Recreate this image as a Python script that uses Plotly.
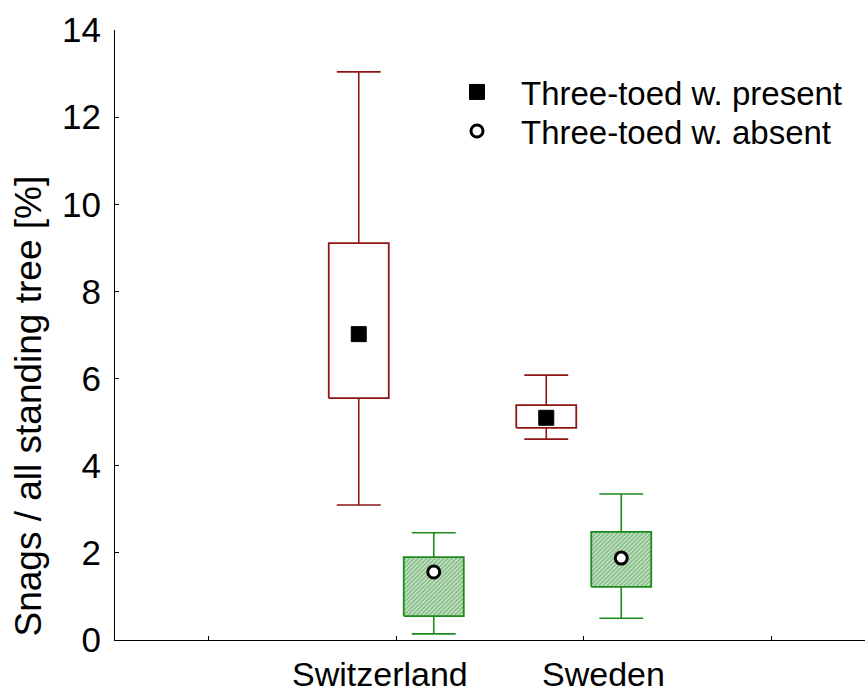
import plotly.graph_objects as go

# Summary statistics per country and woodpecker status
countries = ["Switzerland", "Sweden"]
country_pos = [1, 2]

present_upper = [13.04, 6.08]
present_q3 = [9.11, 5.39]
present_mean = [7.02, 5.10]
present_q1 = [5.55, 4.87]
present_lower = [3.10, 4.61]

absent_upper = [2.46, 3.35]
absent_q3 = [1.90, 2.48]
absent_mean = [1.56, 1.88]
absent_q1 = [0.55, 1.22]
absent_lower = [0.14, 0.50]

RED = "#8E1414"
GREEN = "#1C8A1C"
FONT = "Liberation Sans, Arial, sans-serif"
OFFSET = 0.2
BOX_W = 0.32
CAP_W = 0.234


def box_traces(centers, lower, q1, q3, upper, color, hatched):
    bx, by, wx, wy = [], [], [], []
    for c, lo, a, b, hi in zip(centers, lower, q1, q3, upper):
        bx += [c - BOX_W / 2, c + BOX_W / 2, c + BOX_W / 2, c - BOX_W / 2, c - BOX_W / 2, None]
        by += [a, a, b, b, a, None]
        wx += [c, c, None, c - CAP_W / 2, c + CAP_W / 2, None,
               c, c, None, c - CAP_W / 2, c + CAP_W / 2, None]
        wy += [b, hi, None, hi, hi, None, a, lo, None, lo, lo, None]
    whisk = go.Scatter(x=wx, y=wy, mode="lines", line=dict(color=color, width=1.6),
                       showlegend=False, hoverinfo="skip")
    if hatched:
        box = go.Scatter(x=bx, y=by, mode="lines", fill="toself",
                         fillcolor="rgba(255,255,255,0)",
                         fillpattern=dict(shape="/", fgcolor="#2a8a2a", bgcolor="#e8f4e8",
                                          size=3, solidity=0.7),
                         line=dict(color=color, width=1.8),
                         showlegend=False, hoverinfo="skip")
    else:
        box = go.Scatter(x=bx, y=by, mode="lines", line=dict(color=color, width=1.8),
                         showlegend=False, hoverinfo="skip")
    return [whisk, box]


x_present = [p - OFFSET for p in country_pos]
x_absent = [p + OFFSET for p in country_pos]

fig = go.Figure()
for t in box_traces(x_present, present_lower, present_q1, present_q3, present_upper, RED, False):
    fig.add_trace(t)
for t in box_traces(x_absent, absent_lower, absent_q1, absent_q3, absent_upper, GREEN, True):
    fig.add_trace(t)

fig.add_trace(go.Scatter(x=x_present, y=present_mean, mode="markers",
                         name="Three-toed w. present", legend="legend",
                         marker=dict(symbol="square", size=15, color="black",
                                     line=dict(color="black", width=1))))
fig.add_trace(go.Scatter(x=x_absent, y=absent_mean, mode="markers",
                         name="Three-toed w. absent", legend="legend2",
                         marker=dict(symbol="circle", size=12, color="white",
                                     line=dict(color="black", width=3))))

# Country labels under the axis
label_x = [0.913, 2.103]
for name, lx in zip(countries, label_x):
    fig.add_annotation(x=lx, xref="x", y=-0.0902, yref="paper", text=name,
                       showarrow=False, xanchor="center", yanchor="bottom",
                       font=dict(family=FONT, size=34, color="black"))

fig.add_annotation(x=-0.115, xref="paper", y=0.384, yref="paper",
                   text="Snags / all standing tree [%]", textangle=-90,
                   showarrow=False, xanchor="center", yanchor="middle",
                   font=dict(family=FONT, size=37, color="black"))

legend_style = dict(xanchor="left", yanchor="middle", bgcolor="rgba(0,0,0,0)",
                    font=dict(family=FONT, size=33, color="black"), itemwidth=78)

fig.update_layout(
    width=868, height=695,
    margin=dict(l=115, r=3, t=30, b=55),
    paper_bgcolor="white", plot_bgcolor="white",
    font=dict(family=FONT, size=34, color="black"),
    showlegend=True,
    legend=dict(x=0.424, y=(640 - 92) / 610, **legend_style),
    legend2=dict(x=0.424, y=(640 - 131) / 610, **legend_style),
)
fig.update_xaxes(range=[-0.5, 3.5], tickvals=[0, 1, 2, 3], ticktext=["", "", "", ""],
                 ticks="inside", ticklen=4, tickcolor="black", showgrid=False,
                 zeroline=False, showline=True, linecolor="black", linewidth=1)
fig.update_yaxes(range=[0, 14], tickvals=[0, 2, 4, 6, 8, 10, 12, 14],
                 ticks="inside", ticklen=4, tickcolor="black", showgrid=False,
                 zeroline=False, showline=True, linecolor="black", linewidth=1,
                 ticklabelstandoff=6, tickfont=dict(family=FONT, size=35))

fig.write_html("out.html")
